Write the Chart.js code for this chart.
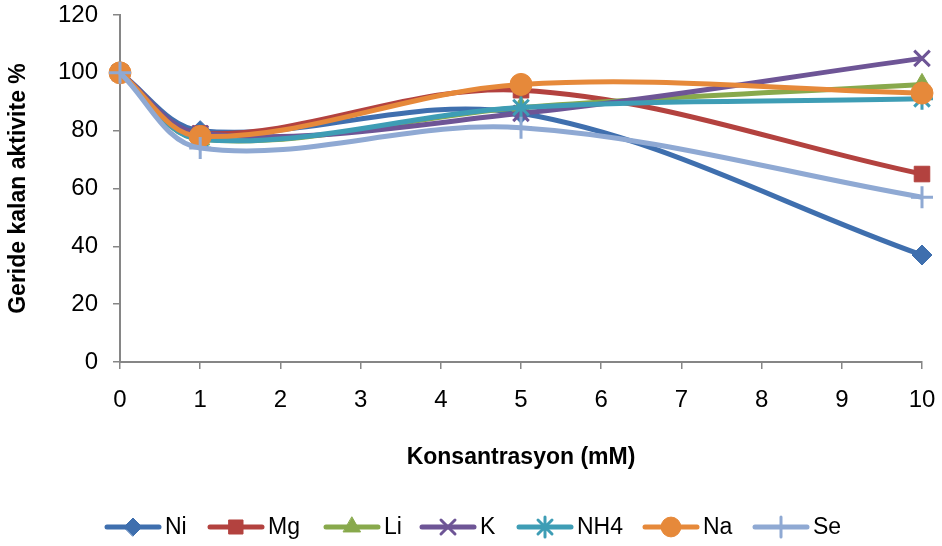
<!DOCTYPE html>
<html>
<head>
<meta charset="utf-8">
<script src="https://cdn.jsdelivr.net/npm/chart.js@4/dist/chart.umd.min.js"></script>
<style>
  html, body { margin: 0; padding: 0; background: #fff; }
  #wrap { width: 942px; height: 546px; }
</style>
</head>
<body>
<div id="wrap"><canvas id="grafico"></canvas></div>
<script>
// konsantrasyon (mM)
const konsantrasyon = [0, 1, 5, 10];

const ni   = [100, 80, 86, 37];
const mg   = [100, 79, 94, 65];
const li   = [100, 77, 88, 96];
const k    = [100, 79, 86, 105];
const nh4  = [100, 77, 88, 91];
const na   = [100, 78, 96, 93];
const se   = [100, 74, 81, 57];

const seriesNames = ['Ni', 'Mg', 'Li', 'K', 'NH4', 'Na', 'Se'];
const xTicks = [0, 1, 2, 3, 4, 5, 6, 7, 8, 9, 10];
const yTicks = [0, 20, 40, 60, 80, 100, 120];

const FONT = "'Liberation Sans', Arial, sans-serif";

const estilos = [
    { color: '#3F6FAE', pointStyle: 'rectRot', radius: 10 },
    { color: '#B3423F', pointStyle: 'rect', radius: 11 },
    { color: '#88A94C', pointStyle: 'triangle', radius: 11 },
    { color: '#6E5596', pointStyle: 'crossRot', radius: 11 },
    { color: '#3E9DB5', pointStyle: 'star', radius: 11 },
    { color: '#E6893A', pointStyle: 'circle', radius: 11 },
    { color: '#8FA9D3', pointStyle: 'cross', radius: 11 }
];

// inicio de cada entrada de la leyenda (px)
const leyendaX = [105, 208, 324, 420, 517, 643, 753];

const valores = [ni, mg, li, k, nh4, na, se];

const esTrazo = (s) => s === 'cross' || s === 'crossRot' || s === 'star';

const datasets = valores.map((serie, i) => ({
    label: seriesNames[i],
    data: serie.map((v, j) => ({ x: konsantrasyon[j], y: v })),
    borderColor: estilos[i].color,
    backgroundColor: estilos[i].color,
    pointStyle: estilos[i].pointStyle,
    pointRadius: estilos[i].radius,
    pointBorderWidth: esTrazo(estilos[i].pointStyle) ? 3 : 1,
    borderWidth: 5,
    tension: 0.35,
    clip: false,
    order: valores.length - i
}));

// leyenda con linea + marcador, como en Excel
const leyendaExcel = {
    id: 'leyendaExcel',
    afterDraw(chart) {
        const ctx = chart.ctx;
        const y = 527;
        ctx.save();
        ctx.font = '23px ' + FONT;
        ctx.textBaseline = 'middle';
        chart.data.datasets.forEach((ds, i) => {
            const x = leyendaX[i];
            ctx.strokeStyle = ds.borderColor;
            ctx.lineWidth = 5;
            ctx.lineCap = 'round';
            ctx.beginPath();
            ctx.moveTo(x + 2, y);
            ctx.lineTo(x + 54, y);
            ctx.stroke();
            ctx.fillStyle = ds.backgroundColor;
            ctx.lineWidth = ds.pointBorderWidth;
            Chart.helpers.drawPoint(ctx, { pointStyle: ds.pointStyle, radius: ds.pointRadius * 0.9, rotation: 0, borderWidth: ds.pointBorderWidth }, x + 28, y);
            ctx.fillStyle = '#000';
            ctx.fillText(ds.label, x + 60, y + 1);
        });
        ctx.restore();
    }
};

new Chart(document.getElementById('grafico').getContext('2d'), {
    type: 'line',
    data: { datasets: datasets },
    options: {
        responsive: true,
        maintainAspectRatio: false,
        animation: false,
        layout: { padding: { top: 15, right: 20, left: 0, bottom: 0 } },
        plugins: {
            legend: { display: false },
            tooltip: { enabled: false }
        },
        scales: {
            x: {
                type: 'linear',
                min: 0,
                max: 10,
                afterBuildTicks: (scale) => { scale.ticks = xTicks.map(v => ({ value: v })); },
                afterFit: (scale) => { scale.height = 184; scale.paddingLeft = 0; scale.paddingRight = 0; },
                grid: { drawOnChartArea: false, drawTicks: true, tickLength: 7, color: '#868686', lineWidth: 1.5 },
                border: { color: '#868686', width: 2 },
                ticks: { color: '#000', font: { family: FONT, size: 24 }, padding: 17, maxRotation: 0 },
                title: {
                    display: true,
                    text: 'Konsantrasyon (mM)',
                    color: '#000',
                    font: { family: FONT, size: 23, weight: 'bold' },
                    padding: { top: 0, bottom: 75 }
                }
            },
            y: {
                min: 0,
                max: 120,
                afterBuildTicks: (scale) => { scale.ticks = yTicks.map(v => ({ value: v })); },
                afterFit: (scale) => { scale.width = 120; scale.paddingTop = 0; scale.paddingBottom = 0; },
                grid: { drawOnChartArea: false, drawTicks: true, tickLength: 7, color: '#868686', lineWidth: 1.5 },
                border: { color: '#868686', width: 2 },
                ticks: { color: '#000', font: { family: FONT, size: 24 }, padding: 15 },
                title: {
                    display: true,
                    text: 'Geride kalan aktivite %',
                    color: '#000',
                    font: { family: FONT, size: 23, weight: 'bold' },
                    padding: { top: 5, bottom: 0 }
                }
            }
        }
    },
    plugins: [leyendaExcel]
});
</script>
</body>
</html>
